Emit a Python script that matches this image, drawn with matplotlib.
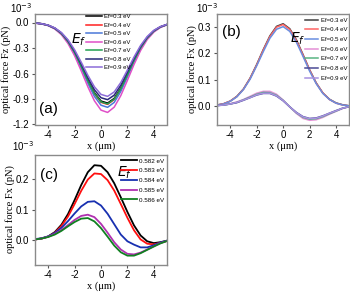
import matplotlib
matplotlib.use("Agg")
import matplotlib.pyplot as plt

x = [-5, -4.5, -4, -3.5, -3, -2.5, -2, -1.5, -1, -0.5, 0, 0.5, 1, 1.5, 2, 2.5, 3, 3.5, 4, 4.5, 5]

labels_ab = ["Ef=0.3 eV", "Ef=0.4 eV", "Ef=0.5 eV", "Ef=0.6 eV", "Ef=0.7 eV", "Ef=0.8 eV", "Ef=0.9 eV"]
labels_c = ["0.582 eV", "0.583 eV", "0.584 eV", "0.585 eV", "0.586 eV"]

# panel (a): Fz (x1e-3 pN)
fz_03 = [-0.006,-0.015,-0.033,-0.068,-0.129,-0.222,-0.351,-0.509,-0.677,-0.826,-0.924,-0.948,-0.893,-0.771,-0.610,-0.443,-0.295,-0.180,-0.101,-0.052,-0.024]
fz_04 = [-0.006,-0.015,-0.034,-0.069,-0.131,-0.225,-0.356,-0.517,-0.687,-0.839,-0.939,-0.963,-0.907,-0.783,-0.620,-0.450,-0.300,-0.183,-0.102,-0.053,-0.025]
fz_05 = [-0.006,-0.016,-0.035,-0.072,-0.135,-0.233,-0.369,-0.536,-0.712,-0.869,-0.973,-0.998,-0.940,-0.811,-0.642,-0.466,-0.311,-0.190,-0.106,-0.055,-0.026]
fz_06 = [-0.007,-0.017,-0.037,-0.076,-0.143,-0.247,-0.391,-0.568,-0.755,-0.921,-1.031,-1.058,-0.996,-0.860,-0.681,-0.494,-0.329,-0.201,-0.113,-0.058,-0.027]
fz_07 = [-0.006,-0.015,-0.034,-0.069,-0.130,-0.224,-0.354,-0.514,-0.684,-0.834,-0.934,-0.958,-0.902,-0.779,-0.617,-0.448,-0.298,-0.182,-0.102,-0.052,-0.025]
fz_08 = [-0.006,-0.014,-0.032,-0.066,-0.123,-0.212,-0.336,-0.487,-0.648,-0.791,-0.885,-0.908,-0.855,-0.738,-0.584,-0.424,-0.283,-0.173,-0.097,-0.050,-0.023]
fz_09 = [-0.006,-0.014,-0.031,-0.063,-0.118,-0.203,-0.321,-0.466,-0.620,-0.756,-0.846,-0.869,-0.817,-0.706,-0.559,-0.406,-0.270,-0.165,-0.092,-0.048,-0.022]

# panel (b): Fx (x1e-3 pN)
fxb_03 = [0.004,0.009,0.019,0.037,0.065,0.106,0.158,0.215,0.267,0.303,0.313,0.294,0.252,0.196,0.138,0.088,0.050,0.026,0.012,0.005,0.001]
fxb_04 = [0.004,0.009,0.019,0.036,0.064,0.105,0.156,0.213,0.264,0.300,0.310,0.291,0.249,0.194,0.137,0.087,0.050,0.025,0.011,0.004,0.001]
fxb_05 = [0.004,0.008,0.018,0.035,0.063,0.102,0.153,0.207,0.258,0.292,0.302,0.284,0.243,0.189,0.133,0.085,0.048,0.025,0.011,0.004,0.001]
fxb_06 = [0.002,0.004,0.009,0.016,0.025,0.037,0.049,0.056,0.056,0.045,0.023,-0.003,-0.028,-0.047,-0.054,-0.052,-0.043,-0.031,-0.020,-0.009,-0.002]
fxb_07 = [0.002,0.004,0.008,0.014,0.024,0.034,0.045,0.052,0.051,0.041,0.022,-0.003,-0.026,-0.043,-0.050,-0.048,-0.040,-0.029,-0.019,-0.008,-0.002]
fxb_08 = [0.002,0.004,0.008,0.013,0.022,0.032,0.042,0.048,0.048,0.038,0.020,-0.003,-0.024,-0.040,-0.047,-0.045,-0.037,-0.027,-0.017,-0.008,-0.002]
fxb_09 = [0.002,0.004,0.008,0.014,0.023,0.032,0.043,0.049,0.049,0.039,0.021,-0.003,-0.025,-0.041,-0.048,-0.046,-0.038,-0.027,-0.018,-0.008,-0.002]

# panel (c): Fx (x1e-3 pN)
fxc_582 = [0.002,0.005,0.012,0.026,0.050,0.085,0.131,0.180,0.222,0.245,0.243,0.222,0.186,0.140,0.092,0.048,0.015,-0.004,-0.010,-0.007,-0.002]
fxc_583 = [0.002,0.005,0.011,0.024,0.046,0.077,0.118,0.161,0.198,0.218,0.216,0.196,0.162,0.118,0.073,0.032,0.002,-0.012,-0.014,-0.009,-0.003]
fxc_584 = [0.003,0.006,0.012,0.023,0.040,0.062,0.087,0.110,0.125,0.127,0.113,0.086,0.052,0.018,-0.004,-0.015,-0.024,-0.024,-0.017,-0.008,-0.002]
fxc_585 = [0.002,0.005,0.011,0.020,0.033,0.049,0.066,0.079,0.083,0.075,0.053,0.024,-0.007,-0.031,-0.045,-0.047,-0.041,-0.031,-0.021,-0.010,-0.003]
fxc_586 = [0.002,0.005,0.010,0.018,0.030,0.045,0.059,0.070,0.072,0.061,0.039,0.011,-0.018,-0.040,-0.051,-0.051,-0.043,-0.032,-0.021,-0.011,-0.003]

series_a = [fz_03, fz_04, fz_05, fz_06, fz_07, fz_08, fz_09]
series_b = [fxb_03, fxb_04, fxb_05, fxb_06, fxb_07, fxb_08, fxb_09]
series_c = [fxc_582, fxc_583, fxc_584, fxc_585, fxc_586]

colors_a = ["#000000", "#ff2020", "#4a78d8", "#e050c8", "#20a050", "#28287a", "#8c6cd8"]
colors_b = ["#404040", "#ff6464", "#6a8ee0", "#e490d6", "#58b482", "#4a4a94", "#a892e0"]
colors_c = ["#000000", "#ff1010", "#1830b0", "#b030b0", "#108020"]

plt.rcParams['font.family'] = ['Liberation Sans', 'DejaVu Sans']
SERIF = ['Liberation Serif', 'DejaVu Serif']

fig = plt.figure(figsize=(3.5, 2.92), dpi=100)
W, H = 350.0, 292.0

def add_ax(l, r, t, b):
    return fig.add_axes([l / W, 1 - b / H, (r - l) / W, (b - t) / H])

ax_a = add_ax(35, 167, 14, 124.5)
ax_b = add_ax(217, 349.3, 14, 124.5)
ax_c = add_ax(35, 167, 154.5, 264.5)

def style(ax, ylim, yticks, ylabel):
    ax.set_xlim(-5, 5)
    ax.set_ylim(*ylim)
    ax.set_xticks([-4, -2, 0, 2, 4])
    ax.set_xticklabels(["-4", "-2", "0", "2", "4"])
    ax.set_yticks(yticks)
    ax.set_yticklabels(["%.1f" % v for v in yticks])
    for s in ax.spines.values():
        s.set_color("#8a8a8a")
        s.set_linewidth(1.0)
    ax.tick_params(labelsize=7, length=2.5, width=0.8, color="#555555", pad=1.5)
    ax.set_ylabel(ylabel, family=SERIF, fontsize=7.5, labelpad=1)
    ax.set_xlabel("x (μm)", family=SERIF, fontsize=7.5, labelpad=1)

def offset_label(px, py):
    fig.text(px / W, 1 - py / H, r"10$^{-3}$", fontsize=7, ha="left", va="top")

for y, c, lab in zip(series_a, colors_a, labels_ab):
    ax_a.plot(x, y, color=c, lw=1.1, label=lab)
style(ax_a, (-1.2, 0.1), [0.0, -0.3, -0.6, -0.9, -1.2], "optical force Fz (pN)")
ax_a.legend(loc="upper left", bbox_to_anchor=(0.36, 1.03), fontsize=4.3, frameon=False,
            handlelength=2.6, handletextpad=0.4, labelspacing=0.55, borderpad=0.1)
ax_a.text(0.27, 0.73, r"$E_f$", transform=ax_a.transAxes, fontsize=10)
ax_a.text(0.03, 0.10, "(a)", transform=ax_a.transAxes, fontsize=11)
offset_label(10, 1)

for y, c, lab in zip(series_b, colors_b, labels_ab):
    ax_b.plot(x, y, color=c, lw=1.1, label=lab)
style(ax_b, (-0.07, 0.35), [0.0, 0.1, 0.2, 0.3], "optical force Fx (pN)")
ax_b.legend(loc="upper right", bbox_to_anchor=(1.01, 1.0), fontsize=4.3, frameon=False,
            handlelength=2.2, handletextpad=0.4, labelspacing=0.75, borderpad=0.1)
ax_b.text(0.55, 0.74, r"$E_f$", transform=ax_b.transAxes, fontsize=10)
ax_b.text(0.04, 0.80, "(b)", transform=ax_b.transAxes, fontsize=11)
offset_label(196, 1)

for y, c, lab in zip(series_c, colors_c, labels_c):
    ax_c.plot(x, y, color=c, lw=1.3, label=lab)
style(ax_c, (-0.08, 0.28), [0.0, 0.1, 0.2], "optical force Fx (pN)")
ax_c.legend(loc="upper right", bbox_to_anchor=(1.01, 1.0), fontsize=4.5, frameon=False,
            handlelength=2.6, handletextpad=0.4, labelspacing=0.7, borderpad=0.1)
ax_c.text(0.62, 0.80, r"$E_f$", transform=ax_c.transAxes, fontsize=10)
ax_c.text(0.04, 0.78, "(c)", transform=ax_c.transAxes, fontsize=11)
offset_label(12, 139)

fig.savefig("out.png", dpi=100)
